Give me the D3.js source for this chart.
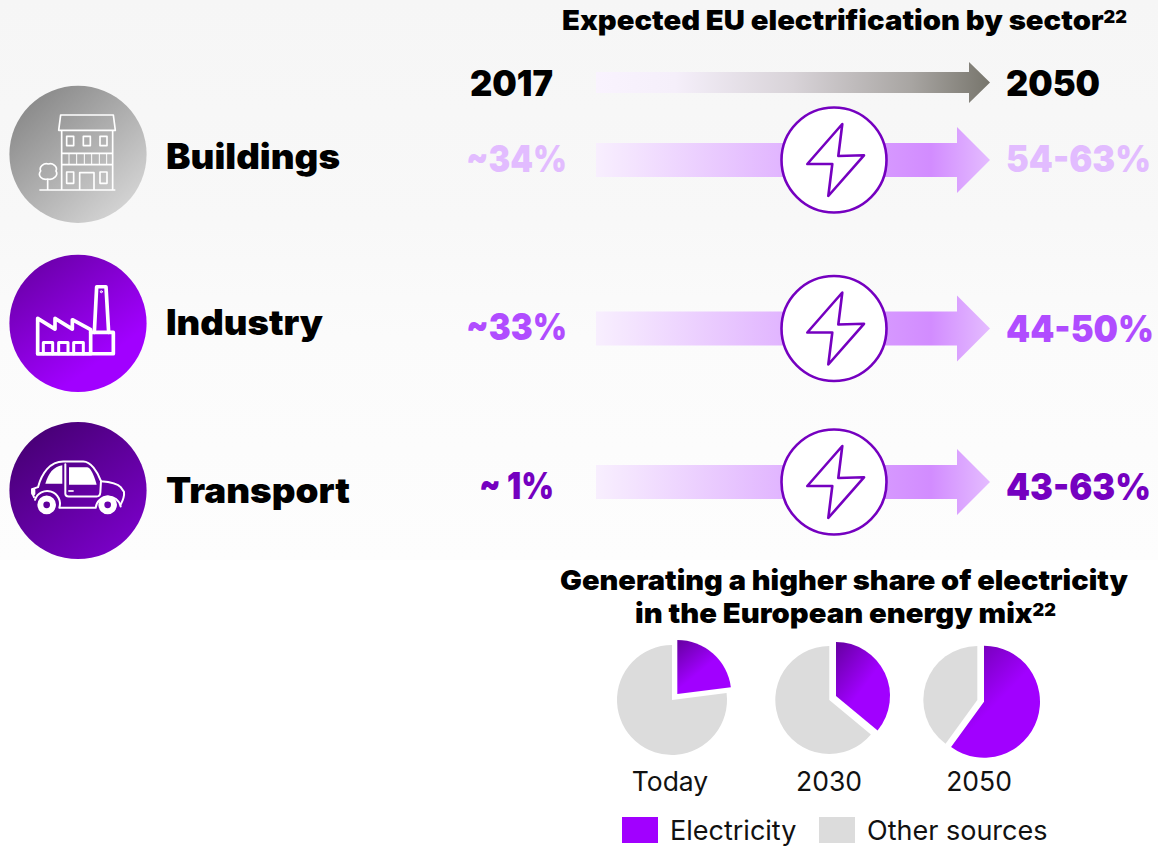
<!DOCTYPE html>
<html><head><meta charset="utf-8">
<script src="https://cdn.jsdelivr.net/npm/d3@7"></script>
<style>html,body{margin:0;padding:0;background:#fff}svg{display:block}text{font-family:Inter,"Open Sans",sans-serif}</style>
</head><body><div id="c"></div>
<script>
const sectors=["Buildings","Industry","Transport"];
const startLabels=["~34%","~33%","~ 1%"];
const endLabels=["54-63%","44-50%","43-63%"];
const labelColors=["#e2bcff","#b04cff","#7500c0"];
const years=[2017,2050];
const pieYears=["Today","2030","2050"];
const electricityShare=[23,36,60];
const otherShare=[77,64,40];
const legendItems=["Electricity","Other sources"];
const W=1158,H=847;
const svg=d3.select("#c").append("svg").attr("width",W).attr("height",H);
const defs=svg.append("defs");
function grad(id,stops,x1=0,y1=0,x2=1,y2=1){
  const g=defs.append("linearGradient").attr("id",id).attr("x1",x1).attr("y1",y1).attr("x2",x2).attr("y2",y2);
  stops.forEach(s=>g.append("stop").attr("offset",s[0]).attr("stop-color",s[1]));
}
grad("bg",[[0,"#f6f6f6"],[0.4,"#f8f8f8"],[0.6,"#fbfbfb"],[1,"#fdfdfd"]],0,0,0,1);
grad("c0",[[0,"#8a8a8a"],[1,"#d4d4d4"]],0.15,0.1,0.85,0.9);
grad("c1",[[0,"#6a00a8"],[0.8,"#a100ff"],[1,"#a100ff"]],0.15,0.05,0.8,0.95);
grad("c2",[[0,"#460073"],[1,"#7a00c8"]],0.15,0.05,0.8,0.95);
grad("top",[[0,"#f9f3fe"],[0.2,"#f5effa"],[0.5,"#d8d3d8"],[0.8,"#a8a5a2"],[1,"#77756c"]],0,0,1,0);
grad("arr",[[0,"#f8effe"],[0.58,"#dca8ff"],[0.85,"#d28cff"],[1,"#e4bcff"]],0,0,1,0);
grad("pie",[[0,"#6a00a8"],[0.6,"#a100ff"],[1,"#a100ff"]],0.1,0,0.8,0.85);

svg.append("rect").attr("width",W).attr("height",560).attr("fill","url(#bg)");

const xYear=d3.scaleLinear().domain(years).range([596,990]);
function arrowPath(y,hw,hh,hl){
  const p=d3.path(),a=xYear(2017),b=xYear(2050);
  p.moveTo(a,y-hw);p.lineTo(b-hl,y-hw);p.lineTo(b-hl,y-hh);p.lineTo(b,y);p.lineTo(b-hl,y+hh);p.lineTo(b-hl,y+hw);p.lineTo(a,y+hw);p.closePath();
  return p.toString();
}
function heavy(sel,size,fill,width){
  sel.attr("font-weight",900).attr("font-size",size).attr("fill",fill||"#000");
  if(width)sel.attr("textLength",width).attr("lengthAdjust","spacingAndGlyphs");
  return sel;
}
function superscript(sel){sel.append("tspan").attr("font-size",17).attr("dy",-7.5).text("22");}

// title
const t=heavy(svg.append("text").attr("x",562).attr("y",30),27.5,"#000",565);
t.append("tspan").text("Expected EU electrification by sector");
superscript(t);

// timeline
svg.append("path").attr("d",arrowPath(82.5,10.5,20.5,21)).attr("fill","url(#top)");
heavy(svg.append("text").attr("x",470).attr("y",96),35,"#000",83).text(years[0]);
heavy(svg.append("text").attr("x",1006).attr("y",96),35,"#000",94).text(years[1]);

// rows
const circleY=[154.3,323.4,490.5];
const rowY=[160,328.5,482];
const textY=[169,335,503];
const sectorW=[174,157,184];
const startY=[172,339.5,499];
const startX=[466,466,479];
const startW=[101,101,75];
const endY=[172,341.5,500];
const endW=[145,148,145];
const rows=svg.selectAll("g.row").data(sectors).join("g").attr("class","row");
rows.append("circle").attr("cx",78).attr("cy",(d,i)=>circleY[i]).attr("r",68.6).attr("fill",(d,i)=>`url(#c${i})`);
rows.append("text").attr("x",166).attr("y",(d,i)=>textY[i]).attr("font-size",35).attr("font-weight",900).attr("fill","#000").attr("textLength",(d,i)=>sectorW[i]).attr("lengthAdjust","spacingAndGlyphs").text(d=>d);
rows.append("text").attr("x",(d,i)=>startX[i]).attr("y",(d,i)=>startY[i]).attr("font-size",37).attr("font-weight",900).attr("fill",(d,i)=>labelColors[i]).attr("textLength",(d,i)=>startW[i]).attr("lengthAdjust","spacingAndGlyphs").text((d,i)=>startLabels[i]);
rows.append("path").attr("d",(d,i)=>arrowPath(rowY[i],17,33,33)).attr("fill","url(#arr)");
rows.append("circle").attr("cx",834).attr("cy",(d,i)=>rowY[i]).attr("r",52.5).attr("fill","#fff").attr("stroke","#7500c0").attr("stroke-width",2.6);
const boltPts=[[8.3,-36],[-26.7,4],[-1.7,4],[-5.7,36],[30,-4.7],[4.3,-4]];
rows.append("path").attr("transform",(d,i)=>`translate(834,${rowY[i]})`).attr("d",d3.line()(boltPts)+"Z").attr("fill","none").attr("stroke","#7500c0").attr("stroke-width",2.6).attr("stroke-linejoin","round");
rows.append("text").attr("font-size",37).attr("font-weight",900).attr("fill",(d,i)=>labelColors[i]).text((d,i)=>endLabels[i])
  .attr("transform",function(d,i){return `translate(1006,${endY[i]}) scale(${endW[i]/this.getComputedTextLength()},1)`;});

// icons (drawn in 3x zoom units around circle centre)
function icon(cy,oy){return svg.append("g").attr("transform",`translate(78,${cy}) scale(0.3333) translate(-234,${-oy})`);}
const ib=icon(circleY[0],253).attr("fill","none").attr("stroke","#fff").attr("stroke-width",5).attr("stroke-linejoin","round");
ib.append("path").attr("d","M182,135H340L346,181H176Z");
ib.append("path").attr("d","M185,181V360M338,181V360M118,360H346M185,250H338M185,284H338");
[207,230,253,275,298,320].forEach(x=>ib.append("path").attr("d",`M${x},250V284`).attr("stroke-width",3));
[[200,199],[250,199],[300,199]].forEach(p=>ib.append("rect").attr("x",p[0]).attr("y",p[1]).attr("width",21).attr("height",28));
[[200,306],[300,306]].forEach(p=>ib.append("rect").attr("x",p[0]).attr("y",p[1]).attr("width",21).attr("height",34));
ib.append("path").attr("d","M239,360V308H282V360");
ib.append("path").attr("d","M143,360V327M143,327C125,332 112,316 122,303C116,290 132,278 145,282C158,278 174,290 168,303C176,316 160,332 143,327Z");

const ii=icon(circleY[1],235).attr("fill","none").attr("stroke","#fff").attr("stroke-width",11).attr("stroke-linejoin","round").attr("stroke-linecap","round");
ii.append("path").attr("d","M113,326V220L165,252V220L217,252V224L272,254V326Z");
ii.append("path").attr("d","M272,262H340V326H113");
ii.append("path").attr("d","M283,262L290,125H318L326,262");
ii.append("path").attr("d","M130,326V292H158V326M176,326V292H204V326M221,326V292H250V326").attr("stroke-width",9);
ii.append("circle").attr("cx",304).attr("cy",140).attr("r",3).attr("stroke-width",3);

const ic=icon(circleY[2],242);
const line=ic.append("g").attr("fill","none").attr("stroke","#fff").attr("stroke-width",6).attr("stroke-linejoin","round").attr("stroke-linecap","round");
line.append("path").attr("d","M102,262Q94,250 96,238L114,232C125,190 150,155 190,155H250C272,155 292,185 303,214C330,216 352,220 362,232L372,246Q374,262 362,284");
line.append("path").attr("d","M362,290A38,38 0 0 0 287,294H178A38,38 0 0 0 105,270");
line.append("path").attr("d","M196,163V252Q196,260 206,260H290Q300,260 301,248L303,214");
ic.append("path").attr("fill","#fff").attr("d","M136,222C145,190 160,170 187,166V222Z");
ic.append("path").attr("fill","#fff").attr("d","M207,172H262C272,172 284,200 290,225H207Z");
ic.append("rect").attr("x",94).attr("y",236).attr("width",12).attr("height",20).attr("rx",4).attr("fill","#fff");
ic.append("rect").attr("x",205).attr("y",241).attr("width",16).attr("height",5).attr("fill","#fff");
[140,323].forEach(x=>{
  ic.append("circle").attr("cx",x).attr("cy",285).attr("r",19).attr("fill","none").attr("stroke","#fff").attr("stroke-width",18);
});

// lower title
[["Generating a higher share of electricity",590,560,568],["in the European energy mix",623,635,421]].forEach((l,i)=>{
  const s=heavy(svg.append("text").attr("x",l[2]).attr("y",l[1]),27.5,"#000",l[3]);
  s.append("tspan").text(l[0]);
  if(i)superscript(s);
});

// pies
const pieCentres=[[672,700,677.3,694],[829.3,700,836,696],[977.3,700,984,701.7]];
const pieRadii=[[55,54],[54,54],[54,56]];
const pieGen=d3.pie().sort(null);
pieYears.forEach((yr,i)=>{
  const arcs=pieGen([electricityShare[i],otherShare[i]]);
  const [gx,gy,ex,ey]=pieCentres[i];
  svg.append("path").attr("transform",`translate(${gx},${gy})`).attr("fill","#dcdcdc").attr("d",d3.arc().innerRadius(0).outerRadius(pieRadii[i][0])(arcs[1]));
  svg.append("path").attr("transform",`translate(${ex},${ey})`).attr("fill","url(#pie)").attr("d",d3.arc().innerRadius(0).outerRadius(pieRadii[i][1])(arcs[0]));
  svg.append("text").attr("x",[670,829,979][i]).attr("y",791).attr("text-anchor","middle").attr("font-size",26.5).attr("fill","#111").text(yr);
});

// legend
[[622,"#a100ff",670],[819,"#dcdcdc",867]].forEach((l,i)=>{
  svg.append("rect").attr("x",l[0]).attr("y",817).attr("width",36).attr("height",26).attr("fill",l[1]);
  svg.append("text").attr("x",l[2]).attr("y",840).attr("font-size",27).attr("fill","#111").text(legendItems[i]);
});
</script></body></html>
